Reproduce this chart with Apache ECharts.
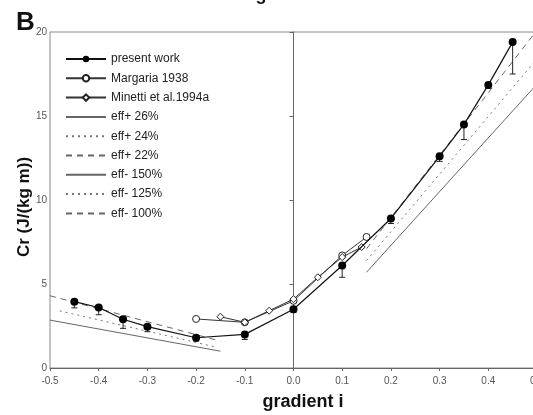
<!DOCTYPE html>
<html>
<head>
<meta charset="utf-8">
<script src="https://cdn.jsdelivr.net/npm/echarts@6/dist/echarts.min.js"></script>
<style>
  html, body { margin: 0; padding: 0; background: #fff; }
  #main { width: 533px; height: 415px; }
</style>
</head>
<body>
<div id="main"></div>
<script>
// present work: gradient, Cr, SD (bar hangs below the point)
const gradPresent = [-0.45, -0.4, -0.35, -0.3, -0.2, -0.1, 0, 0.1, 0.2, 0.3, 0.35, 0.4, 0.45];
const crPresent   = [3.95, 3.6, 2.9, 2.46, 1.8, 2.0, 3.5, 6.1, 8.9, 12.6, 14.5, 16.85, 19.4];
const sdPresent   = [0.37, 0.43, 0.54, 0.3, 0.2, 0.3, 0.2, 0.7, 0.3, 0.3, 0.9, 0.2, 1.9];

// Margaria 1938
const gradMargaria = [-0.2, -0.1, 0, 0.1, 0.15];
const crMargaria   = [2.92, 2.72, 4.0, 6.7, 7.8];

// Minetti et al. 1994a
const gradMinetti = [-0.15, -0.1, -0.05, 0, 0.05, 0.1, 0.14];
const crMinetti   = [3.05, 2.72, 3.41, 4.1, 5.4, 6.6, 7.2];

// efficiency lines, negative gradients
const gradEff26 = [-0.5, -0.15];
const crEff26   = [2.85, 1.0];
const gradEff24 = [-0.48, -0.16];
const crEff24   = [3.4, 1.25];
const gradEff22 = [-0.5, -0.15];
const crEff22   = [4.3, 1.6];

// efficiency lines, positive gradients
const gradEff150 = [0.15, 0.5];
const crEff150   = [5.7, 16.9];
const gradEff125 = [0.15, 0.5];
const crEff125   = [6.4, 18.4];
const gradEff100 = [0.15, 0.5];
const crEff100   = [7.1, 20.1];

const xTicks = [-0.5, 0.5, 0.1]; // min, max, step
const yTicks = [0, 20, 5];

const FONT = "'Liberation Sans Narrow', 'Liberation Sans', sans-serif";
const pts = (xs, ys) => xs.map((x, i) => [x, ys[i]]);

function effLine(name, xs, ys, dash, color) {
  return {
    name: name,
    type: 'line',
    data: pts(xs, ys),
    symbol: 'none',
    lineStyle: { color: color, width: 1, type: dash },
    itemStyle: { color: color },
    z: 2
  };
}
// legend entry for a plain line (hide the dot echarts puts on it)
const plainItem = name => ({ name: name, itemStyle: { opacity: 0 } });

var myChart = echarts.init(document.getElementById('main'));
var option = {
  backgroundColor: '#fff',
  animation: false,
  grid: {
    left: 50, top: 32, width: 487, height: 336,
    show: true, borderColor: '#8a8a8a', borderWidth: 1,
    containLabel: false, outerBoundsMode: 'none'
  },
  legend: {
    data: ['present work', 'Margaria 1938', 'Minetti et al.1994a',
           plainItem('eff+ 26%'), plainItem('eff+ 24%'), plainItem('eff+ 22%'),
           plainItem('eff- 150%'), plainItem('eff- 125%'), plainItem('eff- 100%')],
    orient: 'vertical',
    left: 65, top: 53,
    padding: 0,
    itemWidth: 40, itemHeight: 8, itemGap: 7.3,
    textStyle: { fontFamily: "'Liberation Sans', sans-serif", fontSize: 12, lineHeight: 11, color: '#222' }
  },
  xAxis: {
    type: 'value',
    min: xTicks[0], max: xTicks[1], interval: xTicks[2],
    axisLine: { onZero: true, lineStyle: { color: '#666', width: 1 } },
    axisTick: { show: true, length: 3, lineStyle: { color: '#666' } },
    axisLabel: {
      fontFamily: FONT, fontSize: 10, color: '#555', margin: 8,
      formatter: v => Math.abs(v) < 1e-9 ? '0.0' : v.toFixed(1)
    },
    splitLine: { show: false }
  },
  yAxis: {
    type: 'value',
    min: yTicks[0], max: yTicks[1], interval: yTicks[2],
    axisLine: { show: true, onZero: true, lineStyle: { color: '#666', width: 1 } },
    axisTick: { show: true, length: 4, lineStyle: { color: '#666' } },
    axisLabel: { fontFamily: FONT, fontSize: 10, color: '#555', margin: 3 },
    splitLine: { show: false }
  },
  graphic: [
    { type: 'text', x: 16, y: 10, style: { text: 'B', font: "bold 26px 'Liberation Sans'", fill: '#111' } },
    { type: 'text', x: 24, y: 207, rotation: Math.PI / 2,
      style: { text: 'Cr (J/(kg m))', font: "bold 17px 'Liberation Sans'", fill: '#111', align: 'center', verticalAlign: 'middle' } },
    { type: 'text', x: 303, y: 402,
      style: { text: 'gradient i', font: "bold 18px 'Liberation Sans'", fill: '#111', align: 'center', verticalAlign: 'middle' } },
    { type: 'text', x: 296, y: 4,
      style: { text: 'gradient i', font: "bold 18px 'Liberation Sans'", fill: '#111', align: 'center', verticalAlign: 'bottom' } }
  ],
  series: [
    effLine('eff+ 26%', gradEff26, crEff26, 'solid', '#666'),
    effLine('eff+ 24%', gradEff24, crEff24, [2, 4], '#777'),
    effLine('eff+ 22%', gradEff22, crEff22, [6, 5], '#666'),
    effLine('eff- 150%', gradEff150, crEff150, 'solid', '#666'),
    effLine('eff- 125%', gradEff125, crEff125, [2, 4], '#777'),
    effLine('eff- 100%', gradEff100, crEff100, [6, 5], '#666'),
    {
      name: 'Margaria 1938',
      type: 'line',
      data: pts(gradMargaria, crMargaria),
      symbol: 'circle', symbolSize: 7,
      lineStyle: { color: '#333', width: 1 },
      itemStyle: { color: '#fff', borderColor: '#222', borderWidth: 1 },
      z: 3
    },
    {
      name: 'Minetti et al.1994a',
      type: 'line',
      data: pts(gradMinetti, crMinetti),
      symbol: 'diamond', symbolSize: 7,
      lineStyle: { color: '#333', width: 1 },
      itemStyle: { color: '#fff', borderColor: '#222', borderWidth: 1 },
      z: 4
    },
    {
      name: 'sd',
      type: 'custom',
      data: gradPresent.map((x, i) => [x, crPresent[i], sdPresent[i]]),
      encode: { x: 0, y: 1 },
      z: 4,
      renderItem: function (params, api) {
        var top = api.coord([api.value(0), api.value(1)]);
        var bot = api.coord([api.value(0), api.value(1) - api.value(2)]);
        return {
          type: 'group',
          children: [
            { type: 'line', shape: { x1: top[0], y1: top[1], x2: bot[0], y2: bot[1] }, style: { stroke: '#222', lineWidth: 1 } },
            { type: 'line', shape: { x1: bot[0] - 3, y1: bot[1], x2: bot[0] + 3, y2: bot[1] }, style: { stroke: '#222', lineWidth: 1 } }
          ]
        };
      }
    },
    {
      name: 'present work',
      type: 'line',
      data: pts(gradPresent, crPresent),
      symbol: 'circle', symbolSize: 8,
      lineStyle: { color: '#111', width: 1.2 },
      itemStyle: { color: '#000' },
      z: 5
    }
  ]
};
myChart.setOption(option);
</script>
</body>
</html>
